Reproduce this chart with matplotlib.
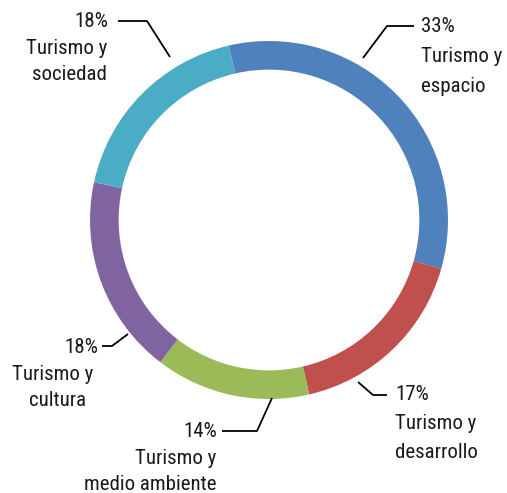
import matplotlib
matplotlib.use("Agg")
import matplotlib.pyplot as plt

# ---- data ----
categories = ["Turismo y espacio", "Turismo y desarrollo", "Turismo y medio ambiente",
              "Turismo y cultura", "Turismo y sociedad"]
values = [33, 17, 14, 18, 18]
label_lines = [
    ["33%", "Turismo y", "espacio"],
    ["17%", "Turismo y", "desarrollo"],
    ["14%", "Turismo y", "medio ambiente"],
    ["18%", "Turismo y", "cultura"],
    ["18%", "Turismo y", "sociedad"],
]
colors = ["#4F81BD", "#C0504D", "#9BBB59", "#8064A2", "#4BACC6"]

plt.rcParams['font.family'] = ['Roboto Condensed', 'DejaVu Sans Condensed',
                               'Liberation Sans Narrow', 'Roboto']

W, H = 507, 493
fig = plt.figure(figsize=(W / 100, H / 100), dpi=100)

# donut axes: center (269,220) px from top, radius 179 px
cx, cy, R = 269, 220, 179
ax = fig.add_axes([(cx - R) / W, (H - cy - R) / H, 2 * R / W, 2 * R / H])
ax.pie(values, colors=colors, startangle=103, counterclock=False,
       radius=1.0, wedgeprops=dict(width=0.16, linewidth=0))
ax.set_xlim(-1, 1)
ax.set_ylim(-1, 1)
ax.set_aspect('equal')
ax.axis('off')

# overlay axes in pixel coordinates for labels / leader lines
ov = fig.add_axes([0, 0, 1, 1])
ov.set_xlim(0, W)
ov.set_ylim(H, 0)
ov.axis('off')

FS = 15
# layout per label: (x, first baseline, line spacing, ha, per-line x offsets)
layout = [
    (421, 32, 30.0, 'left', [0, 0, 0]),
    (395, 400, 29.0, 'left', [0, 0, 0]),
    (217, 437, 26.5, 'right', [0, -1, -1]),
    (98, 353, 26.5, 'right', [0, -5, -12]),
    (108, 27, 26.5, 'right', [0, -1, -1]),
]
leaders = [
    [(363, 58), (387, 26), (414, 26)],
    [(358, 382), (373, 395), (387, 395)],
    [(272, 398), (257, 431), (222, 431)],
    [(128, 334), (112, 346), (102, 346)],
    [(170, 57), (147, 21), (118, 21)],
]

for lines, (x, y0, sp, ha, offs), pts in zip(label_lines, layout, leaders):
    for i, (t, o) in enumerate(zip(lines, offs)):
        ov.text(x + o, y0 + i * sp, t, ha=ha, va='baseline', fontsize=FS, color='#1a1a1a')
    xs = [p[0] for p in pts]
    ys = [p[1] for p in pts]
    ov.plot(xs, ys, color='black', lw=1.3, solid_capstyle='butt')

fig.savefig("out.png", dpi=100)
